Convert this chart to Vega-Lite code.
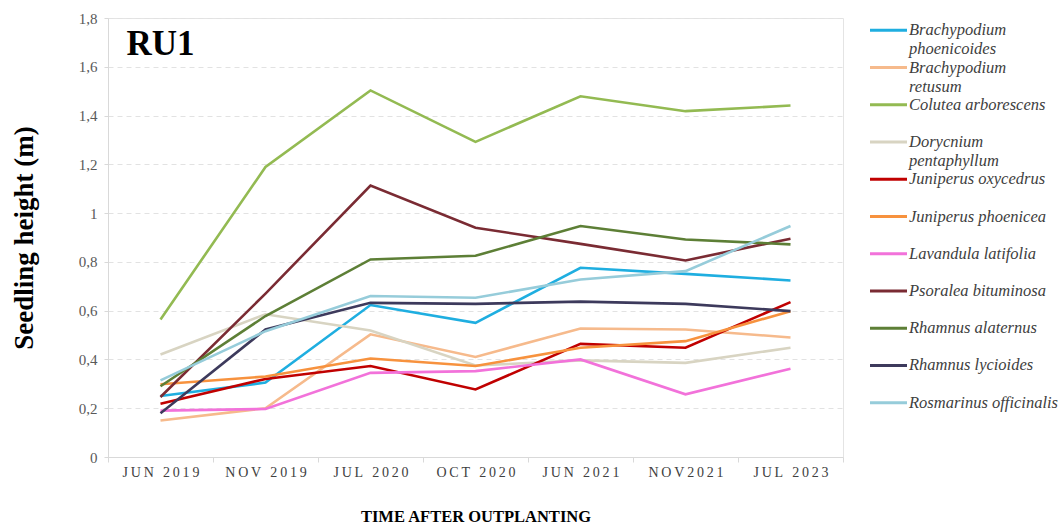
{
  "$schema": "https://vega.github.io/schema/vega-lite/v6.json",
  "background": "white",
  "padding": {"left": 9, "top": 10, "right": 0, "bottom": 0},
  "bounds": "flush",
  "spacing": 27,
  "config": {
    "font": "Liberation Serif",
    "concat": {"spacing": 27}
  },
  "data": {
    "values": [
      {"species": "Brachypodium phoenicoides", "date": "JUN 2019", "h": 0.25},
      {"species": "Brachypodium phoenicoides", "date": "NOV 2019", "h": 0.305},
      {"species": "Brachypodium phoenicoides", "date": "JUL 2020", "h": 0.623},
      {"species": "Brachypodium phoenicoides", "date": "OCT 2020", "h": 0.55},
      {"species": "Brachypodium phoenicoides", "date": "JUN 2021", "h": 0.776},
      {"species": "Brachypodium phoenicoides", "date": "NOV2021", "h": 0.751},
      {"species": "Brachypodium phoenicoides", "date": "JUL 2023", "h": 0.724},
      {"species": "Brachypodium retusum", "date": "JUN 2019", "h": 0.15},
      {"species": "Brachypodium retusum", "date": "NOV 2019", "h": 0.2},
      {"species": "Brachypodium retusum", "date": "JUL 2020", "h": 0.503},
      {"species": "Brachypodium retusum", "date": "OCT 2020", "h": 0.41},
      {"species": "Brachypodium retusum", "date": "JUN 2021", "h": 0.527},
      {"species": "Brachypodium retusum", "date": "NOV2021", "h": 0.523},
      {"species": "Brachypodium retusum", "date": "JUL 2023", "h": 0.49},
      {"species": "Colutea arborescens", "date": "JUN 2019", "h": 0.564},
      {"species": "Colutea arborescens", "date": "NOV 2019", "h": 1.189},
      {"species": "Colutea arborescens", "date": "JUL 2020", "h": 1.503},
      {"species": "Colutea arborescens", "date": "OCT 2020", "h": 1.292},
      {"species": "Colutea arborescens", "date": "JUN 2021", "h": 1.479},
      {"species": "Colutea arborescens", "date": "NOV2021", "h": 1.418},
      {"species": "Colutea arborescens", "date": "JUL 2023", "h": 1.441},
      {"species": "Dorycnium pentaphyllum", "date": "JUN 2019", "h": 0.42},
      {"species": "Dorycnium pentaphyllum", "date": "NOV 2019", "h": 0.585},
      {"species": "Dorycnium pentaphyllum", "date": "JUL 2020", "h": 0.519},
      {"species": "Dorycnium pentaphyllum", "date": "OCT 2020", "h": 0.375},
      {"species": "Dorycnium pentaphyllum", "date": "JUN 2021", "h": 0.396},
      {"species": "Dorycnium pentaphyllum", "date": "NOV2021", "h": 0.386},
      {"species": "Dorycnium pentaphyllum", "date": "JUL 2023", "h": 0.448},
      {"species": "Juniperus oxycedrus", "date": "JUN 2019", "h": 0.218},
      {"species": "Juniperus oxycedrus", "date": "NOV 2019", "h": 0.32},
      {"species": "Juniperus oxycedrus", "date": "JUL 2020", "h": 0.373},
      {"species": "Juniperus oxycedrus", "date": "OCT 2020", "h": 0.277},
      {"species": "Juniperus oxycedrus", "date": "JUN 2021", "h": 0.464},
      {"species": "Juniperus oxycedrus", "date": "NOV2021", "h": 0.448},
      {"species": "Juniperus oxycedrus", "date": "JUL 2023", "h": 0.635},
      {"species": "Juniperus phoenicea", "date": "JUN 2019", "h": 0.298},
      {"species": "Juniperus phoenicea", "date": "NOV 2019", "h": 0.33},
      {"species": "Juniperus phoenicea", "date": "JUL 2020", "h": 0.404},
      {"species": "Juniperus phoenicea", "date": "OCT 2020", "h": 0.373},
      {"species": "Juniperus phoenicea", "date": "JUN 2021", "h": 0.448},
      {"species": "Juniperus phoenicea", "date": "NOV2021", "h": 0.475},
      {"species": "Juniperus phoenicea", "date": "JUL 2023", "h": 0.598},
      {"species": "Lavandula latifolia", "date": "JUN 2019", "h": 0.19},
      {"species": "Lavandula latifolia", "date": "NOV 2019", "h": 0.197},
      {"species": "Lavandula latifolia", "date": "JUL 2020", "h": 0.345},
      {"species": "Lavandula latifolia", "date": "OCT 2020", "h": 0.352},
      {"species": "Lavandula latifolia", "date": "JUN 2021", "h": 0.4},
      {"species": "Lavandula latifolia", "date": "NOV2021", "h": 0.257},
      {"species": "Lavandula latifolia", "date": "JUL 2023", "h": 0.362},
      {"species": "Psoralea bituminosa", "date": "JUN 2019", "h": 0.246},
      {"species": "Psoralea bituminosa", "date": "NOV 2019", "h": 0.67},
      {"species": "Psoralea bituminosa", "date": "JUL 2020", "h": 1.113},
      {"species": "Psoralea bituminosa", "date": "OCT 2020", "h": 0.94},
      {"species": "Psoralea bituminosa", "date": "JUN 2021", "h": 0.874},
      {"species": "Psoralea bituminosa", "date": "NOV2021", "h": 0.806},
      {"species": "Psoralea bituminosa", "date": "JUL 2023", "h": 0.895},
      {"species": "Rhamnus alaternus", "date": "JUN 2019", "h": 0.29},
      {"species": "Rhamnus alaternus", "date": "NOV 2019", "h": 0.578},
      {"species": "Rhamnus alaternus", "date": "JUL 2020", "h": 0.81},
      {"species": "Rhamnus alaternus", "date": "OCT 2020", "h": 0.825},
      {"species": "Rhamnus alaternus", "date": "JUN 2021", "h": 0.947},
      {"species": "Rhamnus alaternus", "date": "NOV2021", "h": 0.892},
      {"species": "Rhamnus alaternus", "date": "JUL 2023", "h": 0.872},
      {"species": "Rhamnus lycioides", "date": "JUN 2019", "h": 0.179},
      {"species": "Rhamnus lycioides", "date": "NOV 2019", "h": 0.523},
      {"species": "Rhamnus lycioides", "date": "JUL 2020", "h": 0.632},
      {"species": "Rhamnus lycioides", "date": "OCT 2020", "h": 0.628},
      {"species": "Rhamnus lycioides", "date": "JUN 2021", "h": 0.637},
      {"species": "Rhamnus lycioides", "date": "NOV2021", "h": 0.628},
      {"species": "Rhamnus lycioides", "date": "JUL 2023", "h": 0.598},
      {"species": "Rosmarinus officinalis", "date": "JUN 2019", "h": 0.314},
      {"species": "Rosmarinus officinalis", "date": "NOV 2019", "h": 0.516},
      {"species": "Rosmarinus officinalis", "date": "JUL 2020", "h": 0.66},
      {"species": "Rosmarinus officinalis", "date": "OCT 2020", "h": 0.653},
      {"species": "Rosmarinus officinalis", "date": "JUN 2021", "h": 0.728},
      {"species": "Rosmarinus officinalis", "date": "NOV2021", "h": 0.762},
      {"species": "Rosmarinus officinalis", "date": "JUL 2023", "h": 0.947}
    ]
  },
  "hconcat": [
    {
      "width": 735,
      "height": 439,
      "view": {"stroke": "#E4E4E4"},
      "layer": [
        {
          "mark": {"type": "line", "strokeWidth": 2.6},
          "encoding": {
            "x": {
              "field": "date",
              "type": "ordinal",
              "bandPosition": 0.5,
              "sort": ["JUN 2019", "NOV 2019", "JUL 2020", "OCT 2020", "JUN 2021", "NOV2021", "JUL 2023"],
              "scale": {"type": "band", "paddingInner": 0, "paddingOuter": 0},
              "axis": {
                "title": "TIME AFTER OUTPLANTING",
                "titleFont": "Liberation Serif",
                "titleFontWeight": "bold",
                "titleFontSize": 16.5,
                "titleColor": "#000000",
                "titlePadding": 29,
                "labelFont": "Liberation Serif",
                "labelFontSize": 14,
                "labelColor": "#404040",
                "labelAngle": 0,
                "labelPadding": 3,
                "labelExpr": "join(split(datum.label, ''), '\u2009')",
                "domainColor": "#D9D9D9",
                "tickColor": "#D9D9D9",
                "tickSize": 5,
                "tickBand": "extent",
                "grid": false
              }
            },
            "y": {
              "field": "h",
              "type": "quantitative",
              "scale": {"domain": [0, 1.8], "nice": false},
              "axis": {
                "title": "Seedling height (m)",
                "titleFont": "Liberation Serif",
                "titleFontWeight": "bold",
                "titleFontSize": 27,
                "titleColor": "#000000",
                "titlePadding": 40,
                "values": [0, 0.2, 0.4, 0.6, 0.8, 1, 1.2, 1.4, 1.6, 1.8],
                "labelExpr": "replace(format(datum.value, '~g'), '.', ',')",
                "labelFont": "Liberation Serif",
                "labelFontSize": 15,
                "labelColor": "#595959",
                "labelPadding": 7,
                "tickSize": 4,
                "tickColor": "#D9D9D9",
                "domainColor": "#D9D9D9",
                "gridColor": "#E2E2E2",
                "gridDash": [5, 4]
              }
            },
            "color": {
              "field": "species",
              "type": "nominal",
              "scale": {
                "domain": ["Brachypodium phoenicoides", "Brachypodium retusum", "Colutea arborescens", "Dorycnium pentaphyllum", "Juniperus oxycedrus", "Juniperus phoenicea", "Lavandula latifolia", "Psoralea bituminosa", "Rhamnus alaternus", "Rhamnus lycioides", "Rosmarinus officinalis"],
                "range": ["#1FAEE0", "#F6BA8C", "#93BA52", "#D8D4C2", "#C00000", "#F7923E", "#F272DA", "#7A2B33", "#5D7F36", "#3D3A5C", "#96CCDA"]
              },
              "legend": null
            }
          }
        },
        {
          "data": {"values": [{"label": "RU1"}]},
          "mark": {"type": "text", "font": "Liberation Serif", "fontWeight": "bold", "fontSize": 35, "align": "center", "baseline": "alphabetic", "color": "#000000"},
          "encoding": {
            "x": {"datum": "JUN 2019", "type": "ordinal"},
            "y": {"datum": 1.65, "type": "quantitative"},
            "text": {"field": "label", "type": "nominal"}
          }
        }
      ]
    },
    {
      "width": 190,
      "height": 439,
      "view": {"stroke": null},
      "transform": [
        {"filter": "datum.date == 'JUN 2019'"},
        {"calculate": "indexof(['Brachypodium phoenicoides', 'Brachypodium retusum', 'Dorycnium pentaphyllum'], datum.species) >= 0 ? split(datum.species, ' ') : datum.species", "as": "label"}
      ],
      "encoding": {
        "y": {
          "field": "species",
          "type": "nominal",
          "scale": {"type": "point", "padding": 0.894, "align": 0.185},
          "axis": null
        }
      },
      "layer": [
        {
          "mark": {"type": "rule", "strokeWidth": 3},
          "encoding": {
            "x": {"datum": 0, "type": "quantitative", "scale": {"domain": [0, 190], "nice": false, "zero": false}, "axis": null},
            "x2": {"datum": 37},
            "color": {"field": "species", "type": "nominal", "legend": null}
          }
        },
        {
          "mark": {"type": "text", "align": "left", "baseline": "alphabetic", "dy": 5, "font": "Liberation Serif", "fontStyle": "italic", "fontSize": 16.5, "lineHeight": 19, "color": "#404040"},
          "encoding": {
            "x": {"datum": 39, "type": "quantitative"},
            "text": {"field": "label", "type": "nominal"}
          }
        }
      ]
    }
  ]
}
